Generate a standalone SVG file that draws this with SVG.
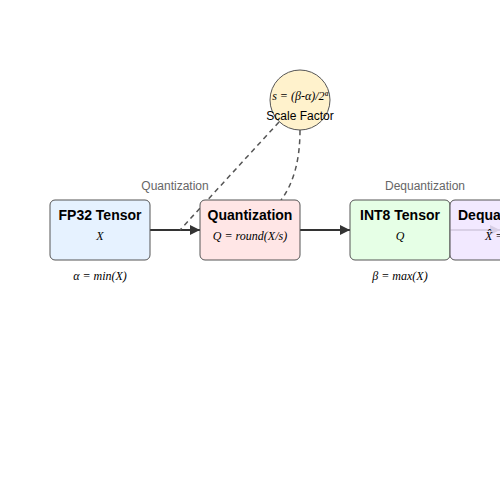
<svg xmlns="http://www.w3.org/2000/svg" width="500" height="500" viewBox="0 0 500 500">
<defs>
<marker id="ah" viewBox="0 0 10 10" refX="10" refY="5" markerWidth="13" markerHeight="10" markerUnits="userSpaceOnUse" orient="auto"><path d="M0,0 L10,5 L0,10 z" fill="#333"/></marker>
<style>
.box{stroke:#555;stroke-width:1;}
.title{font-family:"Liberation Sans",Arial,sans-serif;font-weight:bold;font-size:14px;fill:#000;text-anchor:middle;}
.math{font-family:"Liberation Serif","Times New Roman",serif;font-style:italic;font-size:12px;fill:#000;text-anchor:middle;}
.lbl{font-family:"Liberation Sans",Arial,sans-serif;font-size:12px;fill:#666;text-anchor:middle;}
.conn{stroke:#333;stroke-width:2;fill:none;}
.dash{stroke:#555;stroke-width:1.5;fill:none;stroke-dasharray:5,4;}
</style>
</defs>
<rect width="500" height="500" fill="#fff"/>
<g id="connectors">
<line class="conn" x1="150" y1="230" x2="200" y2="230" marker-end="url(#ah)"/>
<line class="conn" x1="300" y1="230" x2="350" y2="230" marker-end="url(#ah)"/>
<line class="conn" x1="450" y1="230" x2="500" y2="230" marker-end="url(#ah)"/>
<line class="dash" x1="279" y1="122" x2="180" y2="230"/>
<path class="dash" d="M300,130 Q300,175 281,200"/>
</g>
<text class="lbl" x="175" y="190">Quantization</text>
<text class="lbl" x="425" y="190">Dequantization</text>
<g id="scale">
<circle cx="300" cy="100" r="30" fill="#fff2cc" stroke="#555" stroke-width="1"/>
<text class="math" x="300" y="100">s = (β-α)/2ª</text>
<text x="300" y="120" style="font-family:'Liberation Sans',Arial,sans-serif;font-size:12px;text-anchor:middle;fill:#000">Scale Factor</text>
</g>
<g id="fp32">
<rect class="box" x="50" y="200" width="100" height="60" rx="5" fill="#e6f2ff"/>
<text class="title" x="100" y="220">FP32 Tensor</text>
<text class="math" x="100" y="240">X</text>
</g>
<g id="quant">
<rect class="box" x="200" y="200" width="100" height="60" rx="5" fill="#ffe6e6"/>
<text class="title" x="250" y="220">Quantization</text>
<text class="math" x="250" y="240">Q = round(X/s)</text>
</g>
<g id="int8">
<rect class="box" x="350" y="200" width="100" height="60" rx="5" fill="#e6ffe6"/>
<text class="title" x="400" y="220">INT8 Tensor</text>
<text class="math" x="400" y="240">Q</text>
</g>
<g id="dequant">
<rect class="box" x="450" y="200" width="120" height="60" rx="5" fill="#f0e6ff" fill-opacity="0.88"/>
<text class="title" x="458" y="220" style="text-anchor:start">Dequantization</text>
<text class="math" x="485" y="240" style="text-anchor:start">X̂ = s·Q + α</text>
</g>
<text class="math" x="100" y="280">α = min(X)</text>
<text class="math" x="400" y="280">β = max(X)</text>
</svg>
